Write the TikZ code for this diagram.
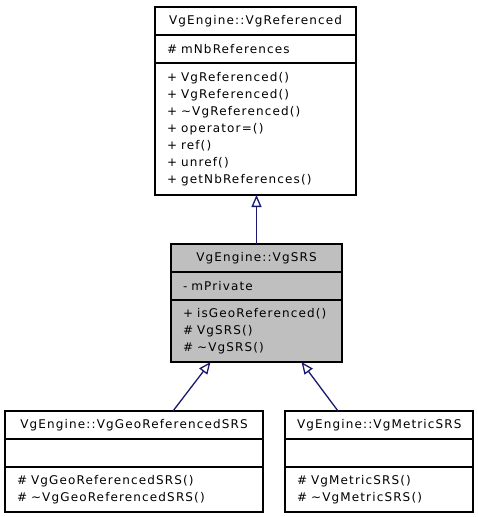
\documentclass[tikz,border=0pt]{standalone}
\usepackage{fontspec}
\setmainfont{DejaVu Sans}[LetterSpace=9.5]
\usetikzlibrary{positioning,arrows.meta}
\definecolor{edgeblue}{RGB}{25,25,112}
\definecolor{boxgray}{RGB}{191,191,191}
\tikzset{
	classpart/.style={draw, line width=1.2pt, outer sep=0pt, inner xsep=12pt, inner ysep=0pt,
		font=\fontsize{12pt}{17pt}\selectfont, minimum height=28pt},
	titlepart/.style={classpart, align=center},
	memberpart/.style={classpart, align=left},
	inherit/.style={draw=edgeblue, line width=1.3pt,
		-{Triangle[open, length=12pt, width=10pt, line width=1.3pt]}}
}
\begin{document}
\begin{tikzpicture}[x=1pt, y=-1pt]
	\useasboundingbox (0,0) rectangle (477,517);
	% base class
	\node[titlepart, text width=177pt, anchor=north west] (vgrefTitle) at (155,7) {VgEngine::VgReferenced};
	\node[memberpart, text width=177pt, below=0pt of vgrefTitle] (vgrefAttrs) {\# mNbReferences};
	\node[memberpart, text width=177pt, minimum height=132pt, below=0pt of vgrefAttrs] (vgrefMethods)
		{+ VgReferenced()\\+ VgReferenced()\\+ \textasciitilde VgReferenced()\\+ operator=()\\+ ref()\\+ unref()\\+ getNbReferences()};
	% VgSRS
	\node[titlepart, fill=boxgray, text width=147pt, anchor=north west] (vgsrsTitle) at (171,244) {VgEngine::VgSRS};
	\node[memberpart, fill=boxgray, text width=147pt, below=0pt of vgsrsTitle] (vgsrsAttrs) {- mPrivate};
	\node[memberpart, fill=boxgray, text width=147pt, minimum height=62pt, below=0pt of vgsrsAttrs] (vgsrsMethods)
		{+ isGeoReferenced()\\\# VgSRS()\\\# \textasciitilde VgSRS()};
	% derived classes
	\node[titlepart, text width=234pt, anchor=north west] (vggeoTitle) at (5,411) {VgEngine::VgGeoReferencedSRS};
	\node[memberpart, text width=234pt, below=0pt of vggeoTitle] (vggeoAttrs) {};
	\node[memberpart, text width=234pt, minimum height=45pt, below=0pt of vggeoAttrs] (vggeoMethods)
		{\# VgGeoReferencedSRS()\\\# \textasciitilde VgGeoReferencedSRS()};
	\node[titlepart, text width=164pt, anchor=north west] (vgmetTitle) at (285,411) {VgEngine::VgMetricSRS};
	\node[memberpart, text width=164pt, below=0pt of vgmetTitle] (vgmetAttrs) {};
	\node[memberpart, text width=164pt, minimum height=45pt, below=0pt of vgmetAttrs] (vgmetMethods)
		{\# VgMetricSRS()\\\# \textasciitilde VgMetricSRS()};
	% inheritance
	\draw[inherit] (vgsrsTitle.north) -- (vgsrsTitle.north |- vgrefMethods.south);
	\draw[inherit] ([xshift=39pt]vggeoTitle.north) -- ([xshift=-46pt]vgsrsMethods.south);
	\draw[inherit] ([xshift=-41pt]vgmetTitle.north) -- ([xshift=45pt]vgsrsMethods.south);
\end{tikzpicture}
\end{document}
